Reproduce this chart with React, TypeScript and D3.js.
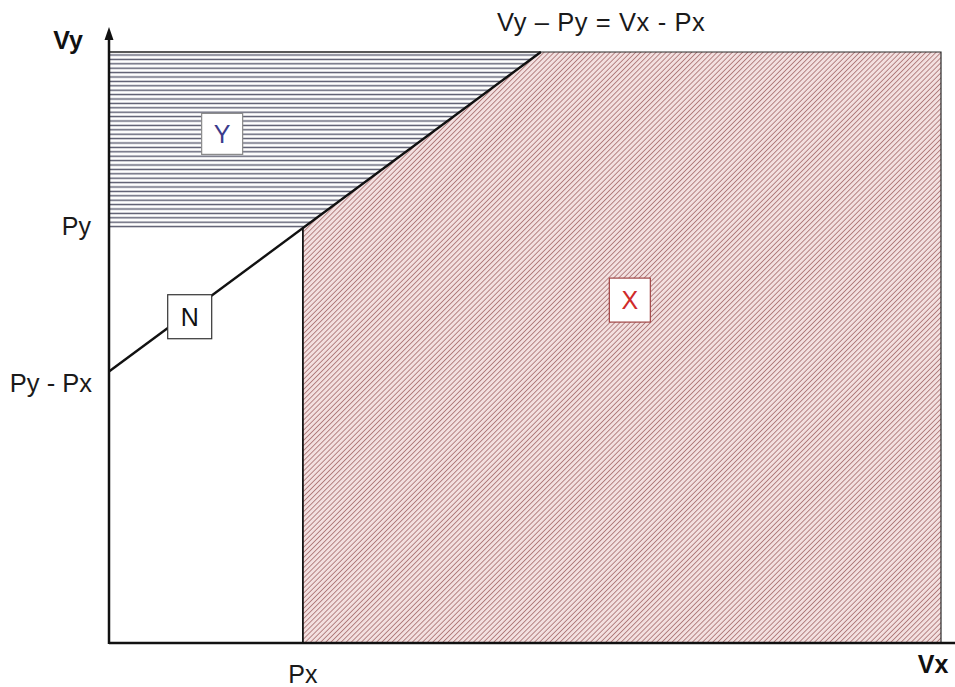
import React from "react";
import * as d3 from "d3";

// Data (in abstract units)
const axisMax = { vx: 10, vy: 9.6 };
const thresholds = { px: 2.33, py: 6.74 };
const axisLabels = ["Vx", "Vy"];
const tickLabels = ["Px", "Py", "Py - Px"];
const equationLabel = "Vy – Py = Vx - Px";
const regionNames = ["Y", "N", "X"];
const regionLabelPos = [
  [1.36, 8.27],
  [0.97, 5.3],
  [6.26, 5.57],
];

const W = 955;
const H = 687;
const FONT = "'Liberation Sans', Arial, Helvetica, sans-serif";

export default function App() {
  const x = d3.scaleLinear().domain([0, axisMax.vx]).range([109, 941]);
  const y = d3.scaleLinear().domain([0, axisMax.vy]).range([643, 52]);
  const { px, py } = thresholds;
  const f = (vx: number) => vx - px + py; // boundary line
  const xTop = axisMax.vy - py + px;

  const line = d3.line<[number, number]>().x((d) => x(d[0])).y((d) => y(d[1]));

  const yRegion: [number, number][] = [
    [0, axisMax.vy],
    [xTop, axisMax.vy],
    [px, py],
    [0, py],
  ];
  const xRegion: [number, number][] = [
    [px, 0],
    [px, py],
    [xTop, axisMax.vy],
    [axisMax.vx, axisMax.vy],
    [axisMax.vx, 0],
  ];

  const boxes = [
    { w: 41, h: 41, stroke: "#8a8a8a", color: "#3b3b8c" },
    { w: 44, h: 44, stroke: "#333", color: "#111" },
    { w: 41, h: 44, stroke: "#a04545", color: "#d02a2a" },
  ];

  return (
    <svg
      width={W}
      height={H}
      style={{ position: "absolute", left: 0, top: 0, background: "#fff" }}
      fontFamily={FONT}
    >
      <defs>
        <pattern id="hatchH" patternUnits="userSpaceOnUse" width={10} height={4.4}>
          <rect width={10} height={4.4} fill="#fff" />
          <line x1={0} x2={10} y1={2.2} y2={2.2} stroke="#55566a" strokeWidth={1.4} />
        </pattern>
        <pattern
          id="hatchD"
          patternUnits="userSpaceOnUse"
          width={3.6}
          height={3.6}
          patternTransform="rotate(45)"
        >
          <rect width={3.6} height={3.6} fill="#f3e0e0" />
          <line x1={0} x2={0} y1={0} y2={3.6} stroke="#9c5c5c" strokeWidth={1.4} />
        </pattern>
      </defs>

      {/* Y region */}
      <path d={line(yRegion) + "Z"} fill="url(#hatchH)" />
      {/* X region */}
      <path d={line(xRegion) + "Z"} fill="url(#hatchD)" stroke="#2a2a2a" strokeWidth={1.2} />
      {/* top border of Y region */}
      <path d={line([[0, axisMax.vy], [xTop, axisMax.vy]])!} stroke="#222" strokeWidth={1.5} fill="none" />
      {/* left edge of X region */}
      <path d={line([[px, 0], [px, py]])!} stroke="#111" strokeWidth={1.6} fill="none" />
      {/* boundary line */}
      <path d={line([[0, f(0)], [xTop, axisMax.vy]])!} stroke="#111" strokeWidth={2.4} fill="none" />

      {/* axes */}
      <line x1={x(0)} x2={W} y1={y(0)} y2={y(0)} stroke="#111" strokeWidth={2.5} />
      <line x1={x(0)} x2={x(0)} y1={y(0) + 1} y2={36} stroke="#111" strokeWidth={2.5} />
      <path d={`M${x(0)},27 L${x(0) - 4.5},40 L${x(0) + 4.5},40 Z`} fill="#111" />

      {/* region label boxes */}
      {regionNames.map((name, i) => {
        const b = boxes[i];
        const cx = x(regionLabelPos[i][0]);
        const cy = y(regionLabelPos[i][1]);
        return (
          <g key={name}>
            <rect x={cx - b.w / 2} y={cy - b.h / 2} width={b.w} height={b.h} fill="#fff" stroke={b.stroke} strokeWidth={1.2} />
            <text x={cx} y={cy + 9} textAnchor="middle" fontSize={25} fill={b.color}>
              {name}
            </text>
          </g>
        );
      })}

      {/* axis labels */}
      <text x={933} y={673} textAnchor="middle" fontSize={25} fontWeight="bold" fill="#111">
        {axisLabels[0]}
      </text>
      <text x={68} y={49} textAnchor="middle" fontSize={25} fontWeight="bold" fill="#111">
        {axisLabels[1]}
      </text>

      {/* tick labels */}
      <text x={x(px)} y={683} textAnchor="middle" fontSize={25} fill="#1a1a1a">
        {tickLabels[0]}
      </text>
      <text x={91} y={y(py) + 7} textAnchor="end" fontSize={25} fill="#1a1a1a">
        {tickLabels[1]}
      </text>
      <text x={92} y={y(py - px) + 20} textAnchor="end" fontSize={25.5} fill="#1a1a1a">
        {tickLabels[2]}
      </text>

      {/* equation */}
      <text x={497} y={31} fontSize={25.5} letterSpacing={0.6} fill="#1a1a1a">
        {equationLabel}
      </text>
    </svg>
  );
}
